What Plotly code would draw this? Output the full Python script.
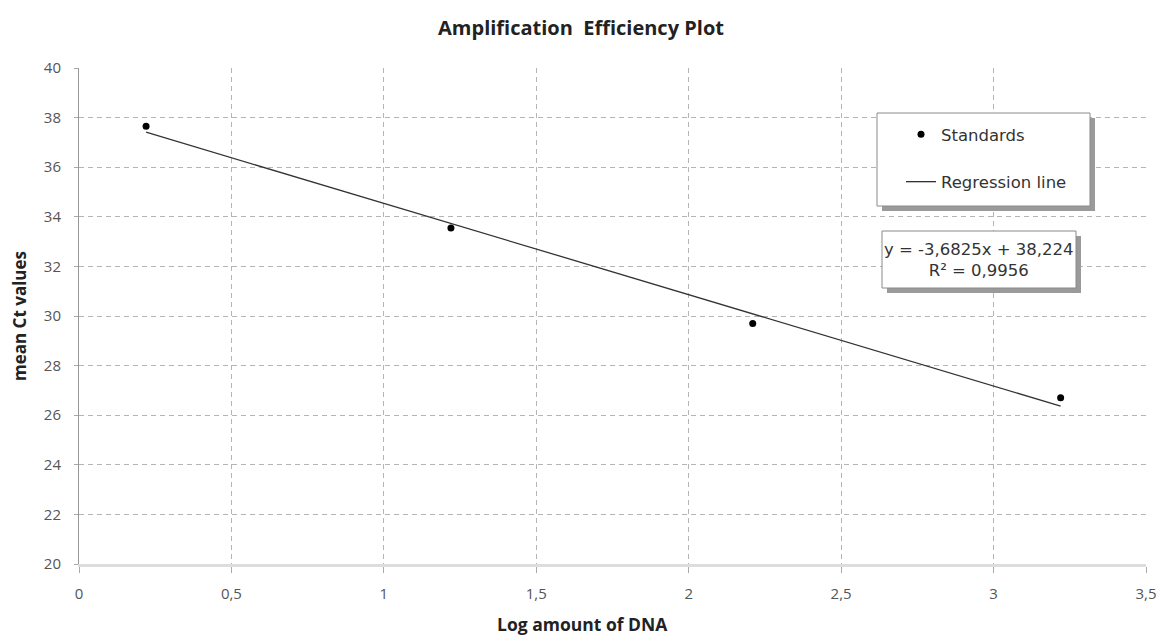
import plotly.graph_objects as go

# ---- data ----
log_dna = [0.22, 1.22, 2.21, 3.22]
mean_ct = [37.65, 33.55, 29.70, 26.70]
slope = -3.6825
intercept = 38.224
r_squared = 0.9956

x_tick_vals = [0, 0.5, 1, 1.5, 2, 2.5, 3, 3.5]
x_tick_text = ["0", "0,5", "1", "1,5", "2", "2,5", "3", "3,5"]
y_tick_vals = [20, 22, 24, 26, 28, 30, 32, 34, 36, 38, 40]
y_tick_text = [str(v) for v in y_tick_vals]

# regression line across the data range
line_x = [min(log_dna), max(log_dna)]
line_y = [slope * v + intercept for v in line_x]

FONT = "Open Sans"
BOX_FONT = "DejaVu Sans"

# pixel geometry helpers
W, H = 1158, 636
L, R, T, B = 79, 12, 68, 72
PW, PH = W - L - R, H - T - B


def px(xpix):
    return (xpix - L) / PW


def py(ypix):
    return (H - B - ypix) / PH


fig = go.Figure()
fig.add_trace(go.Scatter(
    x=log_dna, y=mean_ct, mode="markers", name="Standards",
    marker=dict(color="black", size=7), legendgroup="a"))
fig.add_trace(go.Scatter(
    x=line_x, y=line_y, mode="lines", name="Regression line",
    line=dict(color="#333333", width=1.3), legendgroup="b"))

shapes = []
# legend box with shadow
lx0, lx1, ly0, ly1 = 877, 1090, 113, 206
shapes.append(dict(type="rect", xref="paper", yref="paper", layer="above",
                   x0=px(lx0 + 5), x1=px(lx1 + 5), y0=py(ly1 + 5), y1=py(ly0 + 5),
                   fillcolor="#9a9a9a", line=dict(width=0)))
shapes.append(dict(type="rect", xref="paper", yref="paper", layer="above",
                   x0=px(lx0), x1=px(lx1), y0=py(ly1), y1=py(ly0),
                   fillcolor="white", line=dict(color="#8a8a8a", width=1)))
# equation box with shadow
ex0, ex1, ey0, ey1 = 882, 1076, 231, 288
shapes.append(dict(type="rect", xref="paper", yref="paper", layer="above",
                   x0=px(ex0 + 5), x1=px(ex1 + 5), y0=py(ey1 + 5), y1=py(ey0 + 5),
                   fillcolor="#9a9a9a", line=dict(width=0)))
shapes.append(dict(type="rect", xref="paper", yref="paper", layer="above",
                   x0=px(ex0), x1=px(ex1), y0=py(ey1), y1=py(ey0),
                   fillcolor="white", line=dict(color="#8a8a8a", width=1)))

eq_text = ("y = " + f"{slope:.4f}".replace(".", ",") + "x + "
           + f"{intercept:.3f}".replace(".", ",") + "<br>R² = "
           + f"{r_squared:.4f}".replace(".", ","))

annotations = [
    dict(text=eq_text, xref="paper", yref="paper",
         x=px((ex0 + ex1) / 2), y=py((ey0 + ey1) / 2),
         xanchor="center", yanchor="middle", showarrow=False,
         font=dict(family=BOX_FONT, size=16.5, color="#333333")),
    dict(text="<b>Log amount of DNA</b>", xref="paper", yref="paper",
         x=px(582), y=py(624), xanchor="center", yanchor="middle",
         showarrow=False, font=dict(family=FONT, size=17.5, color="#222222")),
]

fig.update_layout(
    width=W, height=H,
    margin=dict(l=L, r=R, t=T, b=B),
    paper_bgcolor="white", plot_bgcolor="white",
    title=dict(text="<b>Amplification  Efficiency Plot</b>", x=581 / W, xref="container",
               xanchor="center", y=1 - 28 / H, yanchor="middle",
               font=dict(family=FONT, size=20, color="#222222")),
    xaxis=dict(range=[0, 3.5], tickvals=x_tick_vals, ticktext=x_tick_text,
               automargin=False,
               showgrid=True, gridcolor="#b5b5b5", griddash="5px,4px", gridwidth=1,
               zeroline=False, showline=True, linecolor="#dddddd", linewidth=3,
               ticks="outside", ticklen=6, tickcolor="#aaaaaa",
               ticklabelstandoff=8,
               tickfont=dict(family=FONT, size=15, color="#555555")),
    yaxis=dict(range=[20, 40], tickvals=y_tick_vals, ticktext=y_tick_text,
               automargin=False,
               showgrid=True, gridcolor="#b5b5b5", griddash="5px,4px", gridwidth=1,
               zeroline=False, showline=True, linecolor="#999999", linewidth=1,
               ticks="outside", ticklen=4, tickcolor="#aaaaaa",
               ticklabelstandoff=10,
               tickfont=dict(family=FONT, size=15, color="#555555"),
               title=dict(text="<b>mean Ct values</b>", standoff=12,
                          font=dict(family=FONT, size=17, color="#222222"))),
    showlegend=True,
    legend=dict(x=px(901), y=py(117), xanchor="left", yanchor="top",
                bgcolor="rgba(0,0,0,0)", borderwidth=0,
                tracegroupgap=23, itemwidth=30,
                font=dict(family=BOX_FONT, size=16.5, color="#333333")),
    shapes=shapes,
    annotations=annotations,
)

fig.write_html("out.html")
